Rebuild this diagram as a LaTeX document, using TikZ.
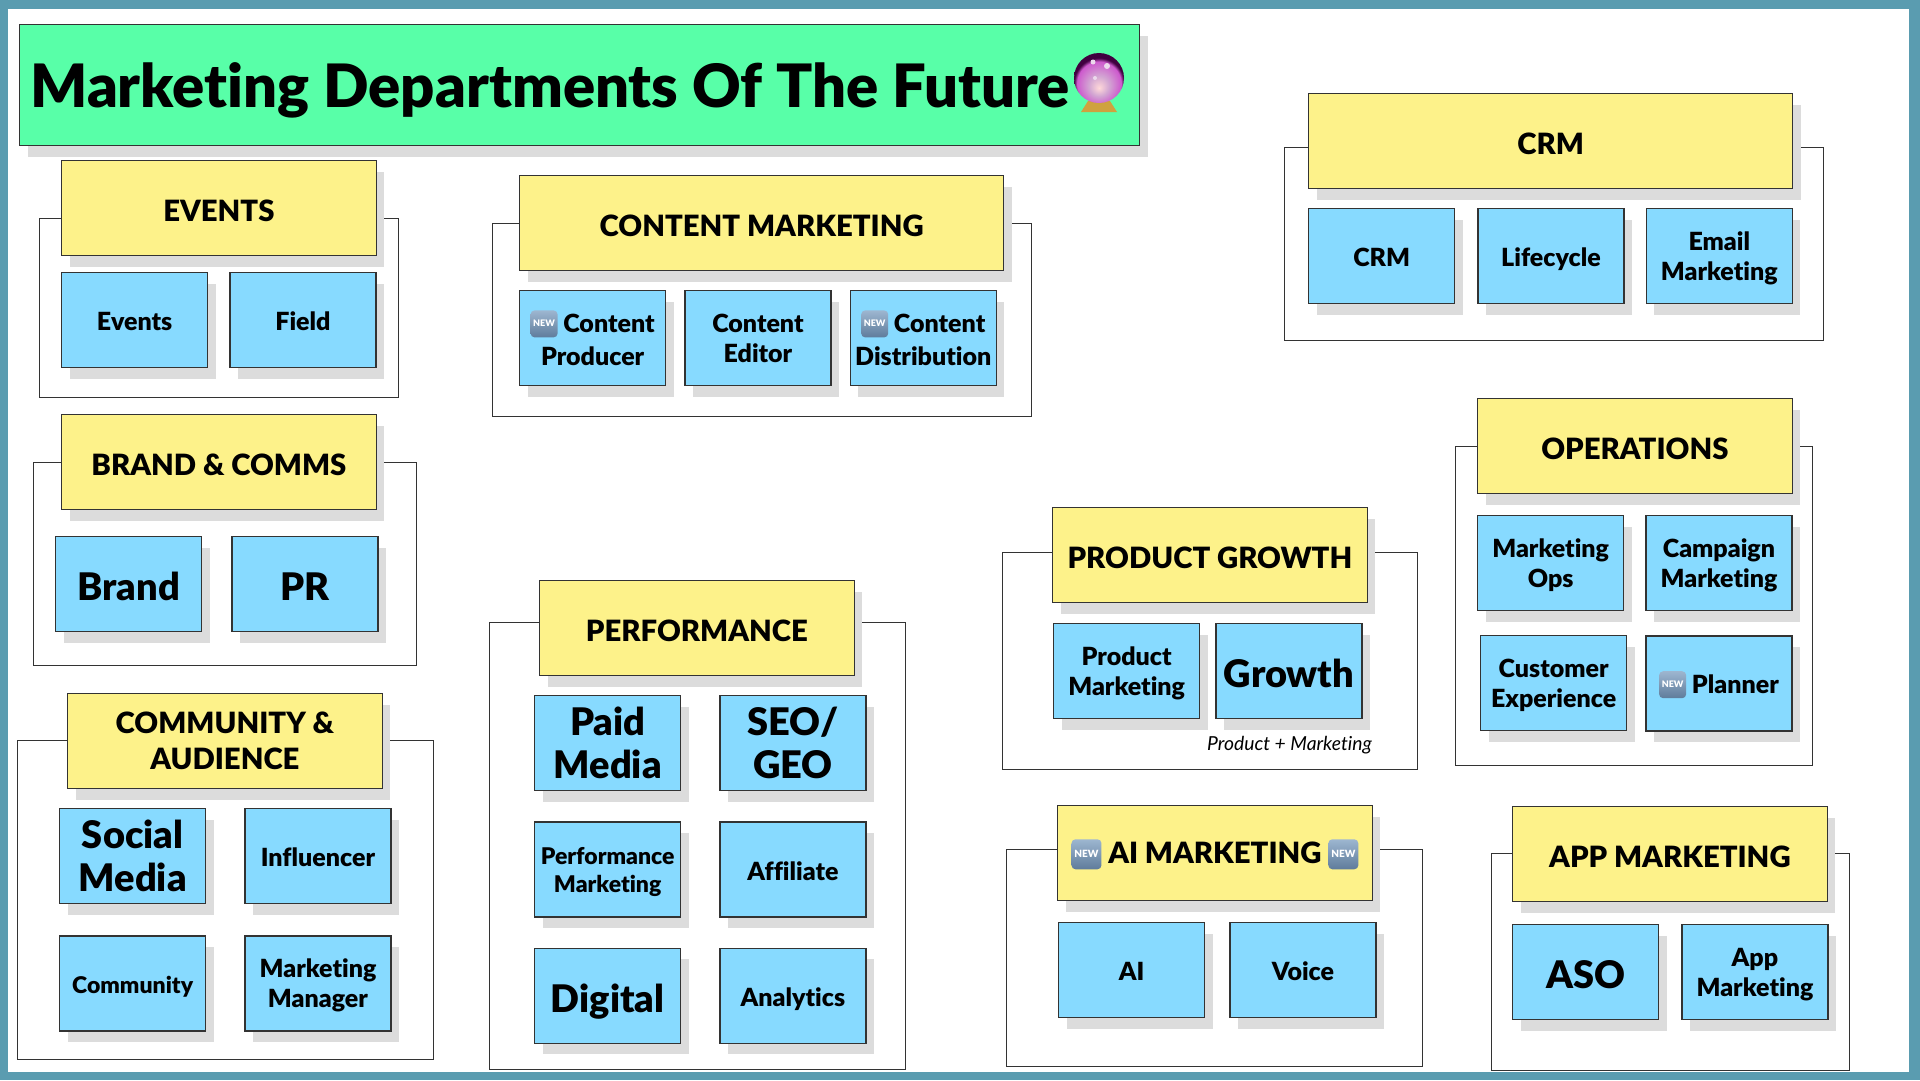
\documentclass[tikz,border=0pt]{standalone}
\usepackage{fontspec}
\setmainfont{Lato}[BoldFont={Lato Black}, Ligatures=NoCommon]
\usetikzlibrary{shapes,arrows,positioning,calc,shadows}
\definecolor{framecol}{HTML}{5A9CB0}
\definecolor{titlecol}{HTML}{58FFA8}
\definecolor{headcol}{HTML}{FDF28A}
\definecolor{tilecol}{HTML}{87DAFF}
\definecolor{shadowcol}{HTML}{DCDCDC}
\definecolor{linecol}{HTML}{333333}
\definecolor{badgetop}{HTML}{9DB6D0}
\definecolor{badgebot}{HTML}{5F7C9B}
\definecolor{footcol}{HTML}{CFA23E}
\pgfdeclareradialshading{crystal}{\pgfpoint{0bp}{-10bp}}{color(0bp)=(pink!60!white); color(10bp)=(violet!35!white); color(22bp)=(violet!60!magenta!65!white); color(25bp)=(violet!50!black); color(50bp)=(violet!50!black)}
\tikzset{
  boxbase/.style = {draw=linecol, line width=1.3pt, anchor=north west, inner sep=0pt, align=center, font=\bfseries, drop shadow={shadow xshift=8pt, shadow yshift=-11pt, fill=shadowcol, opacity=1}},
  titlebox/.style = {boxbase, fill=titlecol, minimum width=1120pt, minimum height=121pt},
  headbox/.style = {boxbase, fill=headcol, minimum width=314.5pt, minimum height=95pt, text depth=0pt, execute at begin node={\rule{0pt}{0.93em}}, font=\fontsize{29.3}{36}\bfseries\selectfont},
  tilebox/.style = {boxbase, fill=tilecol, minimum width=146pt, minimum height=95pt, text depth=0pt, execute at begin node={\rule{0pt}{0.86em}}, font=\fontsize{25}{30}\bfseries\selectfont},
  smalltile/.style = {tilebox, font=\fontsize{23}{28}\bfseries\selectfont},
  bigtile/.style = {tilebox, font=\fontsize{38}{43}\bfseries\selectfont},
  groupbox/.style = {draw=linecol, line width=1.3pt, anchor=north west, inner sep=0pt, outer sep=0.3pt}
}
% small picture set inside the node text
\newcommand{\newbadge}[1][27]{\tikz[baseline={([yshift=-9pt]badge.center)}]{\node[anchor=center, inner sep=0pt, minimum width=#1pt, minimum height=#1pt, rounded corners=4pt, draw=none, text depth=0pt, text height=6pt, top color=badgetop, bottom color=badgebot, text=white, font=\fontsize{\numexpr#1/3\relax}{10}\bfseries\selectfont] (badge) {NEW};}}

\begin{document}
\begin{tikzpicture}[x=1pt, y=-1pt]
    \useasboundingbox (0,0) rectangle (1920,1080);
    \fill[framecol] (0,0) rectangle (1920,1080);
    \fill[white] (8,9) rectangle (1909,1072);

    % title
    \node [titlebox] (title) at (19,24) {};
    \node [anchor=west, inner sep=0pt, font=\fontsize{59.8}{62}\bfseries\selectfont] (titletext) at (30,90.5) {Marketing Departments Of The Future};
    \fill [footcol] (1088,101) -- (1110,101) -- (1117,112) -- (1081,112) -- cycle;
    \node [circle, inner sep=0pt, minimum size=50pt, shading=crystal] (ball) at (1099,78) {};
    \fill [white!85!violet] (1093,62) circle (2.5pt) (1107,66) circle (3pt) (1095,78) circle (2pt);

    % events
    \node [groupbox, minimum width=359pt, minimum height=179pt] (evgroup) at (39,218) {};
    \node [headbox] (evhead) at (61,160) {EVENTS};
    \node [tilebox] (evtile) at (61,272) {Events};
    \node [tilebox, right=21pt of evtile] (fieldtile) {Field};

    % brand
    \node [groupbox, minimum width=383pt, minimum height=203pt] (brgroup) at (33,462) {};
    \node [headbox] (brhead) at (61,414) {BRAND \& COMMS};
    \node [bigtile] (brandtile) at (55,536) {Brand};
    \node [bigtile, right=29pt of brandtile] (prtile) {PR};

    % community
    \node [groupbox, minimum width=416pt, minimum height=319pt] (cogroup) at (17,740) {};
    \node [headbox] (cohead) at (67,693) {COMMUNITY \&\\AUDIENCE};
    \node [bigtile] (socialtile) at (59,808) {Social\\Media};
    \node [tilebox, right=38pt of socialtile] (inftile) {Influencer};
    \node [smalltile, below=31pt of socialtile] (commtile) {Community};
    \node [tilebox, below=31pt of inftile] (mgrtile) {Marketing\\Manager};

    % content
    \node [groupbox, minimum width=539pt, minimum height=193pt] (ctgroup) at (492,223) {};
    \node [headbox, minimum width=484pt] (cthead) at (519,175) {CONTENT MARKETING};
    \node [tilebox] (prodtile) at (519,290) {\newbadge{} Content\\[3pt]Producer};
    \node [tilebox, right=18pt of prodtile] (edittile) {Content\\Editor};
    \node [tilebox, right=18pt of edittile] (disttile) {\newbadge{} Content\\[3pt]Distribution};

    % performance
    \node [groupbox, minimum width=416pt, minimum height=447pt] (pfgroup) at (489,622) {};
    \node [headbox] (pfhead) at (539,580) {PERFORMANCE};
    \node [bigtile] (paidtile) at (534,695) {Paid\\Media};
    \node [bigtile, right=38pt of paidtile] (seotile) {SEO/\\GEO};
    \node [smalltile, below=30pt of paidtile] (perftile) {Performance\\Marketing};
    \node [tilebox, right=38pt of perftile] (afftile) {Affiliate};
    \node [bigtile, below=30pt of perftile] (digitile) {Digital};
    \node [tilebox, right=38pt of digitile] (anatile) {Analytics};

    % crm
    \node [groupbox, minimum width=539pt, minimum height=193pt] (crmgroup) at (1284,147) {};
    \node [headbox, minimum width=484pt] (crmhead) at (1308,93) {CRM};
    \node [tilebox] (crmtile) at (1308,208) {CRM};
    \node [tilebox, right=22pt of crmtile] (lifetile) {Lifecycle};
    \node [tilebox, right=21pt of lifetile] (mailtile) {Email\\Marketing};

    % operations
    \node [groupbox, minimum width=357pt, minimum height=319pt] (opgroup) at (1455,446) {};
    \node [headbox] (ophead) at (1477,398) {OPERATIONS};
    \node [tilebox] (opstile) at (1477,515) {Marketing\\Ops};
    \node [tilebox, right=21pt of opstile] (camptile) {Campaign\\Marketing};
    \node [tilebox] (cxtile) at (1480,635) {Customer\\Experience};
    \node [tilebox, text depth=2pt, below=24pt of camptile] (plantile) {\newbadge{} Planner};

    % product growth
    \node [groupbox, minimum width=415pt, minimum height=217pt] (pggroup) at (1002,552) {};
    \node [headbox] (pghead) at (1052,507) {PRODUCT GROWTH};
    \node [tilebox] (pmtile) at (1053,623) {Product\\Marketing};
    \node [bigtile, right=15pt of pmtile] (growtile) {Growth};
    \node [anchor=east, inner sep=0pt, font=\fontsize{19.3}{22}\itshape\selectfont] (pgnote) at (1372,745) {Product + Marketing};

    % ai
    \node [groupbox, minimum width=416pt, minimum height=217pt] (aigroup) at (1006,849) {};
    \node [headbox, text depth=7pt] (aihead) at (1057,805) {\newbadge[30]{} AI MARKETING \newbadge[30]{}};
    \node [tilebox] (aitile) at (1058,922) {AI};
    \node [tilebox, right=24pt of aitile] (voicetile) {Voice};

    % app
    \node [groupbox, minimum width=358pt, minimum height=217pt] (apgroup) at (1491,853) {};
    \node [headbox] (aphead) at (1512,806) {APP MARKETING};
    \node [bigtile] (asotile) at (1512,924) {ASO};
    \node [tilebox, right=22pt of asotile] (apptile) {App\\Marketing};
\end{tikzpicture}
\end{document}
